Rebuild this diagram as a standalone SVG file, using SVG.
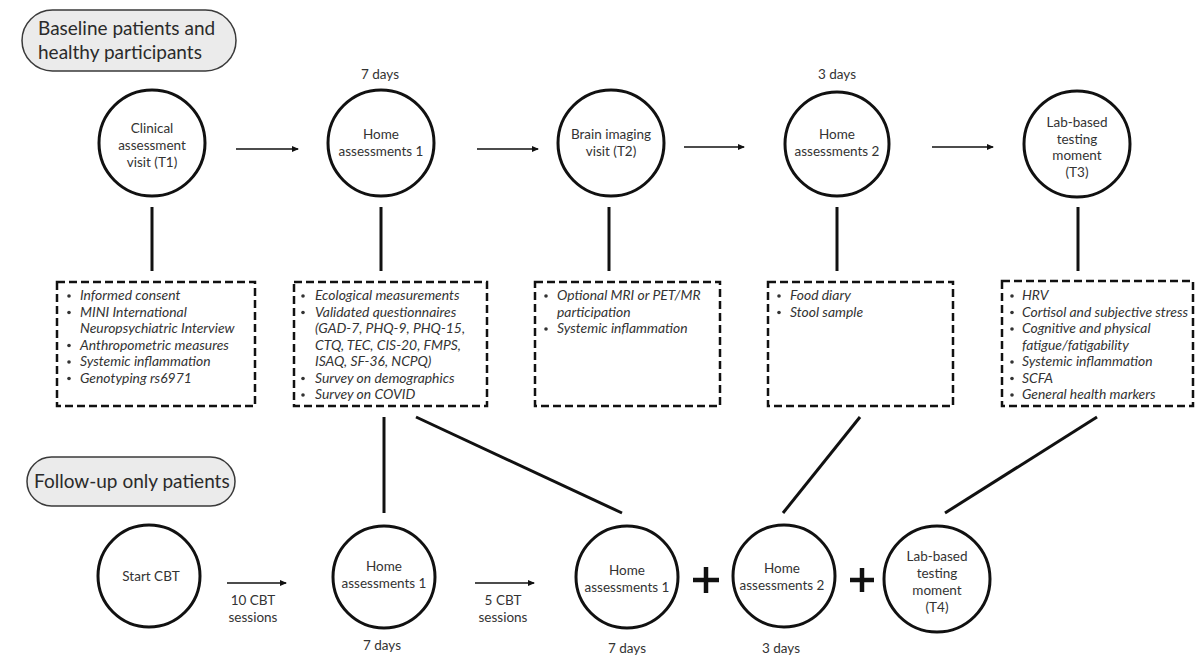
<svg xmlns="http://www.w3.org/2000/svg" width="1200" height="668" viewBox="0 0 1200 668">
<defs>
<marker id="ah" markerWidth="7" markerHeight="6" refX="6" refY="3" orient="auto" markerUnits="userSpaceOnUse">
<path d="M0,0 L7,3 L0,6 z" fill="#111"/>
</marker>
<style>
.pill{fill:#ebebeb;stroke:#3a3a3a;stroke-width:1.5}
.ptxt{font-family:Lato,"Open Sans",sans-serif;font-size:19px;fill:#2a2a2a}
.node{fill:#fff;stroke:#111;stroke-width:3}
.ntxt{font-family:Lato,"Open Sans",sans-serif;font-size:13.5px;fill:#333;text-anchor:middle}
.box{fill:#fff;stroke:#111;stroke-width:2.5;stroke-dasharray:8 4}
.btxt{font-family:Lato,"Open Sans",sans-serif;font-size:13.9px;font-style:italic;fill:#333}
.bul{fill:#333}
.conn{stroke:#111;stroke-width:3;fill:none}
.arr{stroke:#111;stroke-width:1.5;fill:none;marker-end:url(#ah)}
.lbl{font-family:Lato,"Open Sans",sans-serif;font-size:13.5px;fill:#333;text-anchor:middle}
.plus{stroke:#111;stroke-width:4.5}
</style>
</defs>
<rect width="1200" height="668" fill="#fff"/>

<g id="header-baseline">
<rect class="pill" x="22" y="10" width="214" height="61" rx="30.5"/>
<text class="ptxt" x="38" y="35">Baseline patients and</text>
<text class="ptxt" x="38" y="59">healthy participants</text>
</g>
<g id="header-followup">
<rect class="pill" x="27" y="457" width="208" height="49" rx="24.5"/>
<text class="ptxt" x="34" y="488">Follow-up only patients</text>
</g>

<g id="connectors">
<line class="arr" x1="236" y1="149" x2="298" y2="149"/>
<line class="arr" x1="477" y1="149" x2="538" y2="149"/>
<line class="arr" x1="684" y1="147" x2="744" y2="147"/>
<line class="arr" x1="932" y1="147" x2="993" y2="147"/>
<line class="conn" x1="152" y1="207" x2="152" y2="271"/>
<line class="conn" x1="381" y1="207" x2="381" y2="271"/>
<line class="conn" x1="609" y1="207" x2="609" y2="271"/>
<line class="conn" x1="837" y1="207" x2="837" y2="271"/>
<line class="conn" x1="1078" y1="207" x2="1078" y2="271"/>
<line class="conn" x1="384" y1="417" x2="384" y2="513"/>
<line class="conn" x1="416" y1="417" x2="622" y2="513"/>
<line class="conn" x1="860" y1="417" x2="783" y2="513"/>
<line class="conn" x1="1097" y1="417" x2="945" y2="513"/>
<line class="arr" x1="227" y1="583" x2="286" y2="583"/>
<line class="arr" x1="475" y1="583" x2="534" y2="583"/>
</g>

<g id="labels">
<text class="lbl" x="380" y="79">7 days</text>
<text class="lbl" x="837" y="79">3 days</text>
<text class="lbl" x="253" y="605">10 CBT</text>
<text class="lbl" x="253" y="622">sessions</text>
<text class="lbl" x="503" y="605">5 CBT</text>
<text class="lbl" x="503" y="622">sessions</text>
<text class="lbl" x="382" y="650">7 days</text>
<text class="lbl" x="627" y="653">7 days</text>
<text class="lbl" x="781" y="653">3 days</text>
</g>

<g id="n-t1">
<circle class="node" cx="152" cy="143" r="53"/>
<text class="ntxt" x="152" y="133">Clinical</text>
<text class="ntxt" x="152" y="150">assessment</text>
<text class="ntxt" x="152" y="167">visit (T1)</text>
</g>
<g id="n-home1">
<circle class="node" cx="381" cy="143" r="53"/>
<text class="ntxt" x="381" y="139">Home</text>
<text class="ntxt" x="381" y="156">assessments 1</text>
</g>
<g id="n-t2">
<circle class="node" cx="611" cy="143" r="53"/>
<text class="ntxt" x="611" y="139">Brain imaging</text>
<text class="ntxt" x="611" y="156">visit (T2)</text>
</g>
<g id="n-home2">
<circle class="node" cx="837" cy="144" r="52"/>
<text class="ntxt" x="837" y="139">Home</text>
<text class="ntxt" x="837" y="156">assessments 2</text>
</g>
<g id="n-t3">
<circle class="node" cx="1077" cy="144" r="53"/>
<text class="ntxt" x="1077" y="127">Lab-based</text>
<text class="ntxt" x="1077" y="144">testing</text>
<text class="ntxt" x="1077" y="160">moment</text>
<text class="ntxt" x="1077" y="177">(T3)</text>
</g>

<g id="box-t1">
<rect class="box" x="57" y="282" width="198" height="124"/>
<circle class="bul" cx="69" cy="296" r="1.8"/>
<circle class="bul" cx="69" cy="312.5" r="1.8"/>
<circle class="bul" cx="69" cy="345.5" r="1.8"/>
<circle class="bul" cx="69" cy="362" r="1.8"/>
<circle class="bul" cx="69" cy="378.5" r="1.8"/>
<text class="btxt" x="80" y="300">Informed consent</text>
<text class="btxt" x="80" y="316.5">MINI International</text>
<text class="btxt" x="80" y="333">Neuropsychiatric Interview</text>
<text class="btxt" x="80" y="349.5">Anthropometric measures</text>
<text class="btxt" x="80" y="366">Systemic inflammation</text>
<text class="btxt" x="80" y="382.5">Genotyping rs6971</text>
</g>
<g id="box-home1">
<rect class="box" x="294" y="282" width="193" height="124"/>
<circle class="bul" cx="303" cy="296" r="1.8"/>
<circle class="bul" cx="303" cy="312.5" r="1.8"/>
<circle class="bul" cx="303" cy="378.5" r="1.8"/>
<circle class="bul" cx="303" cy="395" r="1.8"/>
<text class="btxt" x="315" y="300">Ecological measurements</text>
<text class="btxt" x="315" y="316.5">Validated questionnaires</text>
<text class="btxt" x="315" y="333">(GAD-7, PHQ-9, PHQ-15,</text>
<text class="btxt" x="315" y="349.5">CTQ, TEC, CIS-20, FMPS,</text>
<text class="btxt" x="315" y="366">ISAQ, SF-36, NCPQ)</text>
<text class="btxt" x="315" y="382.5">Survey on demographics</text>
<text class="btxt" x="315" y="399">Survey on COVID</text>
</g>
<g id="box-t2">
<rect class="box" x="535" y="282" width="185" height="124"/>
<circle class="bul" cx="546" cy="296" r="1.8"/>
<circle class="bul" cx="546" cy="329" r="1.8"/>
<text class="btxt" x="557" y="300">Optional MRI or PET/MR</text>
<text class="btxt" x="557" y="316.5">participation</text>
<text class="btxt" x="557" y="333">Systemic inflammation</text>
</g>
<g id="box-home2">
<rect class="box" x="768" y="282" width="185" height="124"/>
<circle class="bul" cx="779" cy="296" r="1.8"/>
<circle class="bul" cx="779" cy="312.5" r="1.8"/>
<text class="btxt" x="790" y="300">Food diary</text>
<text class="btxt" x="790" y="316.5">Stool sample</text>
</g>
<g id="box-t3">
<rect class="box" x="1002" y="281" width="191" height="125"/>
<circle class="bul" cx="1012" cy="296" r="1.8"/>
<circle class="bul" cx="1012" cy="312.5" r="1.8"/>
<circle class="bul" cx="1012" cy="329" r="1.8"/>
<circle class="bul" cx="1012" cy="362" r="1.8"/>
<circle class="bul" cx="1012" cy="378.5" r="1.8"/>
<circle class="bul" cx="1012" cy="395" r="1.8"/>
<text class="btxt" x="1022" y="300">HRV</text>
<text class="btxt" x="1022" y="316.5">Cortisol and subjective stress</text>
<text class="btxt" x="1022" y="333">Cognitive and physical</text>
<text class="btxt" x="1022" y="349.5">fatigue/fatigability</text>
<text class="btxt" x="1022" y="366">Systemic inflammation</text>
<text class="btxt" x="1022" y="382.5">SCFA</text>
<text class="btxt" x="1022" y="399">General health markers</text>
</g>

<g id="n-startcbt">
<circle class="node" cx="149" cy="576" r="51"/>
<text class="ntxt" x="151" y="581">Start CBT</text>
</g>
<g id="n-fu-home1a">
<circle class="node" cx="384" cy="577" r="51"/>
<text class="ntxt" x="384" y="571">Home</text>
<text class="ntxt" x="384" y="588">assessments 1</text>
</g>
<g id="n-fu-home1b">
<circle class="node" cx="627" cy="577" r="51"/>
<text class="ntxt" x="627" y="575">Home</text>
<text class="ntxt" x="627" y="592">assessments 1</text>
</g>
<g id="plus1">
<line class="plus" x1="693" y1="580" x2="719" y2="580"/>
<line class="plus" x1="706" y1="567" x2="706" y2="593"/>
</g>
<g id="n-fu-home2">
<circle class="node" cx="784" cy="576" r="51"/>
<text class="ntxt" x="782" y="573">Home</text>
<text class="ntxt" x="782" y="590">assessments 2</text>
</g>
<g id="plus2">
<line class="plus" x1="850" y1="580" x2="874" y2="580"/>
<line class="plus" x1="862" y1="568" x2="862" y2="592"/>
</g>
<g id="n-t4">
<circle class="node" cx="937" cy="579" r="53"/>
<text class="ntxt" x="937" y="561">Lab-based</text>
<text class="ntxt" x="937" y="578">testing</text>
<text class="ntxt" x="937" y="595">moment</text>
<text class="ntxt" x="937" y="612">(T4)</text>
</g>
</svg>
